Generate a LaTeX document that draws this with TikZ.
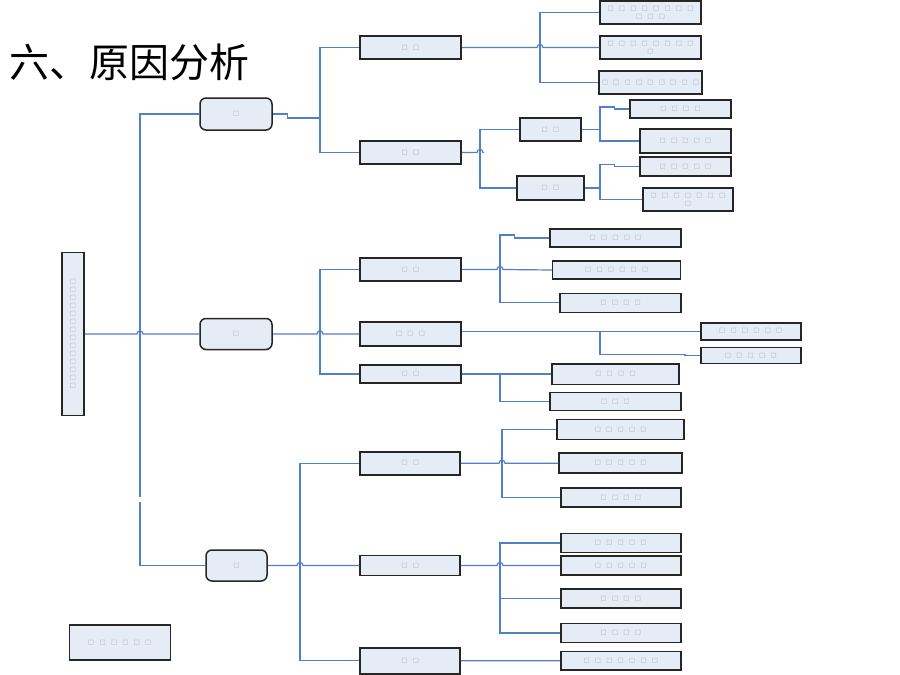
\documentclass[tikz,border=0pt]{standalone}
\usepackage{fontspec}
\newfontfamily\dv{DejaVu Sans}
\newfontfamily\cjk{Noto Sans CJK SC}
\definecolor{boxfill}{RGB}{230,236,246}
\definecolor{linkblue}{RGB}{80,128,200}
\definecolor{tofugray}{RGB}{175,175,185}
\newcommand\g{\makebox[11.4pt]{□}}
\tikzset{
  conn/.style={draw=linkblue, line width=1.2pt},
  box/.style={draw=black!85, line width=1.5pt, fill=boxfill, inner sep=0pt,
    font=\dv\fontsize{6.5}{8}\selectfont, text=tofugray, align=center},
  rbox/.style={box, rounded corners=6pt},
  hop/.style={insert path={-- ([xshift=-3pt]#1) .. controls ([xshift=-3pt,yshift=4pt]#1) and ([xshift=3pt,yshift=4pt]#1) .. ([xshift=3pt]#1)}},
}
\newcommand\bx[6][box]{\node[#1,minimum width=#4pt,minimum height=#5pt] (#2) at (#3) {#6};}
\begin{document}
\begin{tikzpicture}[x=1pt,y=-1pt]
\useasboundingbox[fill=white] (0,0) rectangle (900,675);
% title
\node[anchor=base west, inner sep=0pt, font=\cjk\fontsize{40}{40}\selectfont] (title) at (9,77) {六、原因分析};
% root and level 1
\bx{R}{73,334}{22}{163}{\g\\\g\\\g\\\g\\\g\\\g\\\g\\\g\\\g\\\g\\\g\\\g\\\g\\\g}
\bx[rbox]{A}{236,114}{72}{32}{\g}
\bx[rbox]{B}{236,334}{72}{31}{\g}
\bx[rbox]{C}{236.5,565.5}{61}{31}{\g}
\bx{D}{119.8,642.5}{101}{35}{\g\g\g\g\g\g}
% branch A
\bx{A1}{410.5,47.5}{101}{23}{\g\g}
\bx{A2}{410.5,152.5}{101}{23}{\g\g}
\bx{A1a}{650.5,12.5}{101}{23}{\g\g\g\g\g\g\g\g\\\g\g\g}
\bx{A1b}{650.5,47.5}{101}{23}{\g\g\g\g\g\g\g\g\\\g}
\bx{A1c}{650.5,82.5}{101}{23}{\g\g\g\g\g\g\g\g\g}
\bx{A2a}{550.5,129.5}{61}{23}{\g\g}
\bx{A2b}{550.5,188}{67}{24}{\g\g}
\bx{A2a1}{680.5,109}{101}{18}{\g\g\g\g}
\bx{A2a2}{685.5,141}{91}{24}{\g\g\g\g\g}
\bx{A2b1}{685.5,166.5}{91}{19}{\g\g\g\g\g}
\bx{A2b2}{688,199.5}{90}{23}{\g\g\g\g\g\g\g\\\g}
% branch B
\bx{B1}{410.5,269.5}{101}{23}{\g\g}
\bx{B2}{410.5,334}{101}{24}{\g\g\g}
\bx{B3}{410.5,374}{101}{18}{\g\g}
\bx{B1a}{615.5,238}{131}{18}{\g\g\g\g\g}
\bx{B1b}{616.7,270}{128}{18}{\g\g\g\g\g\g}
\bx{B1c}{620.7,302.8}{121}{19}{\g\g\g\g}
\bx{B2a}{750.8,331.3}{100}{17}{\g\g\g\g\g\g}
\bx{B2b}{750.8,355.7}{100}{16}{\g\g\g\g\g}
\bx{B3a}{615.5,374}{127}{20.5}{\g\g\g\g}
\bx{B3b}{615.3,401.7}{131}{18}{\g\g\g}
% branch C
\bx{C1}{410.2,463.3}{100}{23}{\g\g}
\bx{C2}{410.2,565.5}{100}{20}{\g\g}
\bx{C3}{410.2,660.8}{100}{26}{\g\g}
\bx{C1a}{620.7,429.5}{127}{20}{\g\g\g\g\g}
\bx{C1b}{620.7,463.2}{123}{20}{\g\g\g\g\g}
\bx{C1c}{620.8,497.7}{120}{19}{\g\g\g\g}
\bx{C2a}{620.8,543}{120}{18.6}{\g\g\g\g\g}
\bx{C2b}{620.8,565.5}{120}{19}{\g\g\g\g\g}
\bx{C2c}{620.8,598.7}{120}{19}{\g\g\g\g}
\bx{C2d}{620.8,633}{120}{18.6}{\g\g\g\g}
\bx{C3a}{620.8,660.7}{120}{18.7}{\g\g\g\g\g\g\g}
% bus coordinates
\coordinate (bR) at (140,334);
\coordinate (gR1) at (140,497);
\coordinate (gR2) at (140,502);
\coordinate (bA) at (320,118);
\coordinate (bA1) at (540,47.5);
\coordinate (bA2) at (480,152.5);
\coordinate (bA2a) at (600,129.5);
\coordinate (bA2b) at (600,188);
\coordinate (bB) at (320,334);
\coordinate (bB1) at (500,269.5);
\coordinate (bB2) at (600,331.3);
\coordinate (bB3) at (500,374);
\coordinate (bC) at (300,565.5);
\coordinate (bC1) at (502,463.2);
\coordinate (bC2) at (500,565.5);
% root connectors
\draw[conn] (A.west) -| (gR1);
\draw[conn] (gR2) |- (C.west);
\draw[conn] (R.east) [hop=bR] -- (B.west);
% A connectors
\draw[conn] (A1.west) -| (bA) |- (A2.west);
\draw[conn] (A.east) -- ++(15,0) -- ++(0,4) -- (bA);
\draw[conn] (A1a.west) -| (bA1) |- (A1c.west);
\draw[conn] (A1.east) [hop=bA1] -- (A1b.west);
\draw[conn] (A2a.west) -| (bA2) |- (A2b.west);
\draw[conn] (A2.east) [hop=bA2] -- ++(1,0);
\draw[conn] (A2a.east) -- (bA2a);
\draw[conn] (A2a1.west) -- ++(-15,0) -- ++(0,-2) -| (bA2a) |- (A2a2.west);
\draw[conn] (A2b.east) -- (bA2b);
\draw[conn] (A2b1.west) -- ++(-25,0) -- ++(0,-2) -| (bA2b) |- (A2b2.west);
% B connectors
\draw[conn] (B1.west) -| (bB) |- (B3.west);
\draw[conn] (B.east) [hop=bB] -- (B2.west);
\draw[conn] (B1a.west) -- ++(-35,0) -- ++(0,-3) -| (bB1) |- (B1c.west);
\draw[conn] (B1.east) [hop=bB1] -- (B1b.west);
\draw[conn] (B2.east |- B2a.west) -- (B2a.west);
\draw[conn] (B2b.west) -- ++(-15,0) -- ++(0,-1.5) -| (bB2);
\draw[conn] (B3.east) -- (B3a.west);
\draw[conn] (bB3) |- (B3b.west);
% C connectors
\draw[conn] (C1.west) -| (bC) |- (C3.west);
\draw[conn] (C.east) [hop=bC] -- (C2.west);
\draw[conn] (C1a.west) -| (bC1) |- (C1c.west);
\draw[conn] (C1.east) [hop=bC1] -- (C1b.west);
\draw[conn] (C2a.west) -| (bC2) |- (C2d.west);
\draw[conn] (C2.east) [hop=bC2] -- (C2b.west);
\draw[conn] (bC2 |- C2c.west) -- (C2c.west);
\draw[conn] (C3.east) -- (C3a.west);
\end{tikzpicture}
\end{document}
